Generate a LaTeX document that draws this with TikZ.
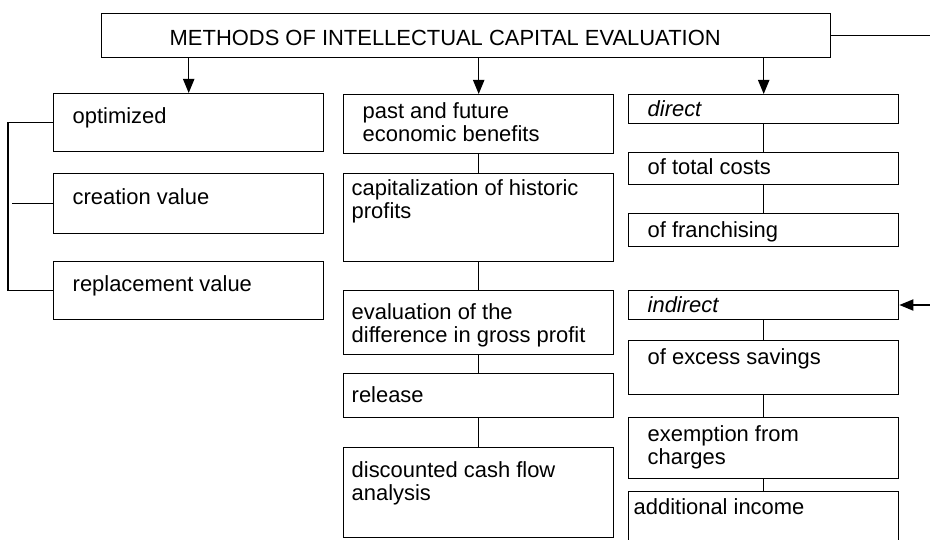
\documentclass[tikz,border=0pt]{standalone}
\usepackage{fontspec}
\setmainfont{Liberation Sans}
\usetikzlibrary{positioning, arrows.meta, calc}

% one unit = one pixel of the 930x540 frame
\newlength{\pxu}
\setlength{\pxu}{0.025cm}
% width, height, left indent, top gap, text
\newcommand{\cellbox}[5]{%
  \begin{minipage}[t][#2\pxu][t]{#1\pxu}%
  \raggedright\leftskip=#3\pxu\relax
  \vspace*{#4\pxu}#5%
  \end{minipage}}

\begin{document}
\begin{tikzpicture}[
    x=0.025cm, y=-0.025cm,
    every node/.style={font=\fontsize{15.6}{16.6}\selectfont},
    cell/.style={draw, rectangle, anchor=north west, inner sep=0pt, line width=1pt},
    link/.style={line width=1pt},
    arr/.style={line width=1pt, -{Triangle[length=10pt, width=8pt]}}
]
\clip (0,0) rectangle (930,540);

% Title
\node[cell] (title) at (101,13) {\cellbox{729}{44}{68}{16}{METHODS OF INTELLECTUAL CAPITAL EVALUATION}};

% Left column
\node[cell] (opt)  at (53,93)  {\cellbox{270}{58}{19}{14}{optimized}};
\node[cell] (crea) at (53,173) {\cellbox{270}{60}{19}{15}{creation value}};
\node[cell] (repl) at (53,261) {\cellbox{270}{58}{19}{14}{replacement value}};

% Middle column
\node[cell] (past)  at (343,94)  {\cellbox{270}{59}{19}{8}{past and future\\economic benefits}};
\node[cell] (capit) at (343,173) {\cellbox{270}{88}{8}{6}{capitalization of historic\\profits}};
\node[cell] (evalu) at (343,290) {\cellbox{270}{64}{8}{13}{evaluation of the\\difference in gross profit}};
\node[cell] (relea) at (343,373) {\cellbox{270}{44}{8}{13}{release}};
\node[cell] (disc)  at (343,447) {\cellbox{270}{90}{8}{14}{discounted cash flow\\analysis}};

% Right column
\node[cell] (direct) at (628,94)  {\cellbox{270}{29}{19}{6}{\itshape direct}};
\node[cell] (total)  at (628,152) {\cellbox{270}{32}{19}{6}{of total costs}};
\node[cell] (franch) at (628,213) {\cellbox{270}{33}{19}{8}{of franchising}};
\node[cell] (indir)  at (628,290) {\cellbox{270}{29}{19}{6}{\itshape indirect}};
\node[cell] (excess) at (628,340) {\cellbox{270}{54}{19}{8}{of excess savings}};
\node[cell] (exempt) at (628,417) {\cellbox{270}{61}{19}{8}{exemption from\\charges}};
\node[cell] (addit)  at (628,491) {\cellbox{270}{70}{5}{7}{additional income}};

% Arrows from the title
\draw[arr] (opt.north |- title.south) -- (opt.north);
\draw[arr] (past.north |- title.south) -- (past.north);
\draw[arr] (direct.north |- title.south) -- (direct.north);

% Links inside the columns
\draw[link] (past) -- (capit);
\draw[link] (capit) -- (evalu);
\draw[link] (evalu) -- (relea);
\draw[link] (relea) -- (disc);
\draw[link] (direct) -- (total);
\draw[link] (total) -- (franch);
\draw[link] (indir) -- (excess);
\draw[link] (excess) -- (exempt);
\draw[link] (exempt) -- (addit);

% Left bracket
\coordinate (brk) at (8,0);
\draw[link] (opt.west) -- (opt.west -| brk) -- (repl.west -| brk) -- (repl.west);
\draw[link] (crea.west) -- ([xshift=3]crea.west -| brk);

% Right side stubs
\coordinate (outR) at (930,35);
\coordinate (inR) at (930,305);
\draw[link] (title.east) -- (title.east -| outR);
\draw[arr] (inR) -- (inR -| indir.east);

\end{tikzpicture}
\end{document}
